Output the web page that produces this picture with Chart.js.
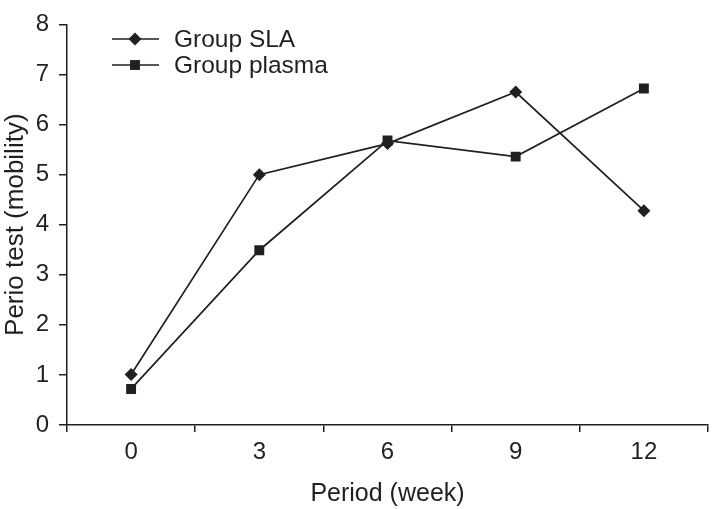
<!DOCTYPE html>
<html>
<head>
<meta charset="utf-8">
<script src="https://cdn.jsdelivr.net/npm/chart.js@4/dist/chart.umd.min.js"></script>
<style>
  html, body { margin: 0; padding: 0; background: #fff; }
  #wrap { width: 715px; height: 509px; }
</style>
</head>
<body>
<div id="wrap"><canvas id="chart" width="715" height="509"></canvas></div>
<script>
const weeks = ['0', '3', '6', '9', '12'];
const slaValues = [1.01, 5.0, 5.62, 6.65, 4.28];
const plasmaValues = [0.72, 3.49, 5.68, 5.36, 6.72];
const yTicks = [0, 1, 2, 3, 4, 5, 6, 7, 8];

const ink = '#231f20';
const fontFamily = '"Liberation Sans", Arial, Helvetica, sans-serif';

// Legend drawn inside the plot, line through marker like the original
const insideLegend = {
  id: 'insideLegend',
  afterDraw(chart) {
    const ctx = chart.ctx;
    const rows = [
      { label: 'Group SLA', y: 39, style: 'rectRot', radius: 6.5 },
      { label: 'Group plasma', y: 65, style: 'rect', radius: 7 }
    ];
    ctx.save();
    ctx.font = '24.5px ' + fontFamily;
    ctx.textBaseline = 'middle';
    rows.forEach(row => {
      ctx.strokeStyle = ink;
      ctx.lineWidth = 1.7;
      ctx.beginPath();
      ctx.moveTo(112, row.y);
      ctx.lineTo(159, row.y);
      ctx.stroke();
      ctx.fillStyle = ink;
      Chart.helpers.drawPoint(ctx, { pointStyle: row.style, radius: row.radius, borderWidth: 0, rotation: 0 }, 135, row.y);
      ctx.fillStyle = ink;
      ctx.fillText(row.label, 174, row.y + 1);
    });
    ctx.restore();
  }
};

const canvas = document.getElementById('chart');
const context = canvas.getContext('2d');

new Chart(context, {
  type: 'line',
  data: {
    labels: weeks,
    datasets: [
      {
        label: 'Group SLA',
        data: slaValues,
        borderColor: ink,
        backgroundColor: ink,
        borderWidth: 1.7,
        pointStyle: 'rectRot',
        pointRadius: 6.5,
        pointBorderWidth: 0,
        tension: 0
      },
      {
        label: 'Group plasma',
        data: plasmaValues,
        borderColor: ink,
        backgroundColor: ink,
        borderWidth: 1.7,
        pointStyle: 'rect',
        pointRadius: 7,
        pointBorderWidth: 0,
        tension: 0
      }
    ]
  },
  options: {
    responsive: false,
    animation: false,
    devicePixelRatio: 1,
    layout: { padding: { top: 12, right: 3, left: 0, bottom: 0 } },
    plugins: {
      legend: { display: false },
      tooltip: { enabled: false }
    },
    scales: {
      x: {
        type: 'category',
        offset: true,
        afterFit: s => {
          s.height = 84;
          s.paddingLeft = 0;
          s.paddingRight = 0;
        },
        grid: { offset: true, drawOnChartArea: false, drawTicks: true, tickLength: 7, color: ink, lineWidth: 1.5 },
        border: { display: true, color: ink, width: 1.5 },
        ticks: { color: ink, padding: 6, font: { family: fontFamily, size: 24 } },
        title: { display: true, text: 'Period (week)', color: ink, padding: { top: 0, bottom: 0 }, font: { family: fontFamily, size: 25 } }
      },
      y: {
        min: 0,
        max: 8,
        afterFit: s => { s.width = 67; },
        afterBuildTicks: s => { s.ticks = yTicks.map(v => ({ value: v })); },
        grid: { drawOnChartArea: false, drawTicks: true, tickLength: 8, color: ink, lineWidth: 1.5 },
        border: { display: true, color: ink, width: 1.5 },
        ticks: { color: ink, padding: 10, font: { family: fontFamily, size: 24 } },
        title: { display: true, text: 'Perio test (mobility)', color: ink, padding: { top: 0, bottom: 0 }, font: { family: fontFamily, size: 26 } }
      }
    }
  },
  plugins: [insideLegend]
});
</script>
</body>
</html>
